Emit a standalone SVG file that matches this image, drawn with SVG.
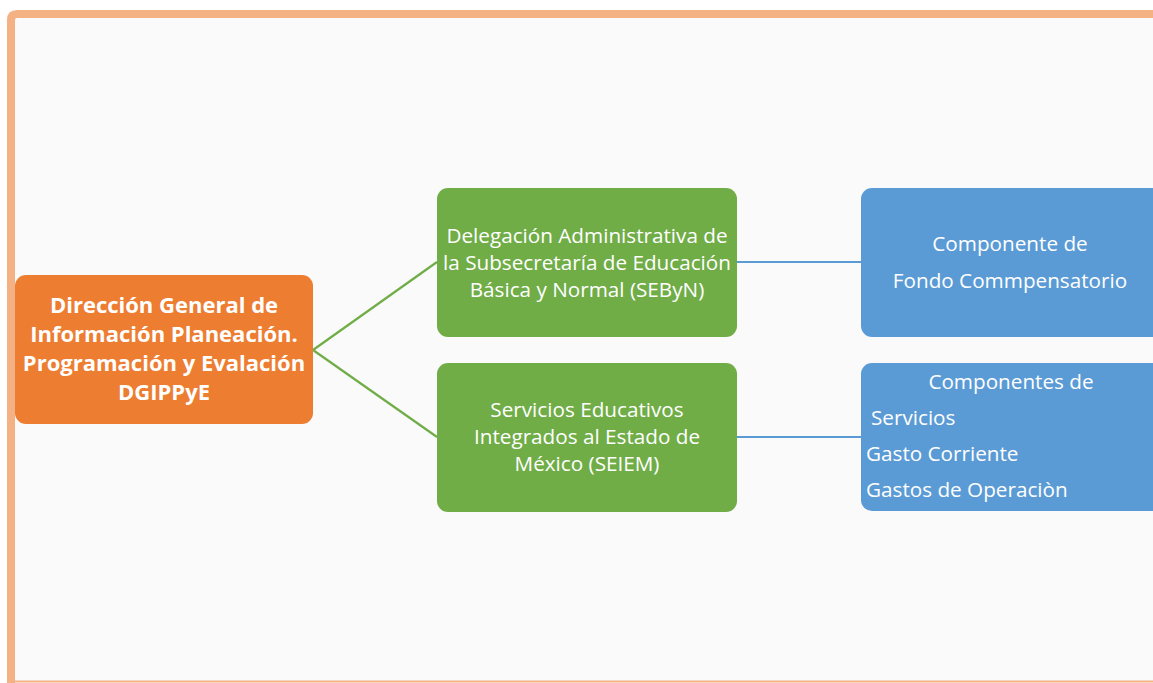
<svg xmlns="http://www.w3.org/2000/svg" width="1153" height="683" viewBox="0 0 1153 683">
<style>
.t{font-family:"Open Sans",Lato,"Liberation Sans",sans-serif;fill:#fff}
.b{font-weight:bold;font-size:22px}
.g{font-size:20.7px}
.c{text-anchor:middle}
.conn-g{stroke:#70ad47;stroke-width:2.2;fill:none}
.conn-b{stroke:#5b9bd5;stroke-width:2.2;fill:none}
</style>
<rect x="0" y="0" width="1153" height="683" fill="#ffffff"/>
<g id="frame">
<rect x="11" y="14" width="1150" height="667" fill="#fafafa"/>
<path d="M11 683 V20 Q11 14 17 14 H1153" fill="none" stroke="#f4b183" stroke-width="8"/>
<line x1="11" y1="681.5" x2="1153" y2="681.5" stroke="#f4b183" stroke-width="2"/>
</g>
<g id="connectors">
<line class="conn-g" x1="313" y1="350" x2="437" y2="262"/>
<line class="conn-g" x1="313" y1="350" x2="437" y2="437"/>
<line class="conn-b" x1="737" y1="262" x2="861" y2="262"/>
<line class="conn-b" x1="737" y1="437" x2="861" y2="437"/>
</g>
<g id="dgippye">
<rect x="15" y="275" width="298" height="149" rx="11" fill="#ed7d31"/>
<text class="t b c" x="164" y="313">Dirección General de</text>
<text class="t b c" x="164" y="342">Información Planeación.</text>
<text class="t b c" x="164" y="371">Programación y Evalación</text>
<text class="t b c" x="164" y="400">DGIPPyE</text>
</g>
<g id="sebyn">
<rect x="437" y="188" width="300" height="149" rx="11" fill="#70ad47"/>
<text class="t g c" x="587" y="243">Delegación Administrativa de</text>
<text class="t g c" x="587" y="270">la Subsecretaría de Educación</text>
<text class="t g c" x="587" y="297">Básica y Normal (SEByN)</text>
</g>
<g id="seiem">
<rect x="437" y="363" width="300" height="149" rx="11" fill="#70ad47"/>
<text class="t g c" x="587" y="417">Servicios Educativos</text>
<text class="t g c" x="587" y="444">Integrados al Estado de</text>
<text class="t g c" x="587" y="471">México (SEIEM)</text>
</g>
<g id="fondo">
<rect x="861" y="188" width="310" height="149" rx="11" fill="#5b9bd5"/>
<text class="t g c" x="1010" y="251">Componente de</text>
<text class="t g c" x="1010" y="288">Fondo Commpensatorio</text>
</g>
<g id="servicios">
<rect x="861" y="363" width="310" height="148" rx="11" fill="#5b9bd5"/>
<text class="t g c" x="1011" y="389">Componentes de</text>
<text class="t g" x="871" y="425">Servicios</text>
<text class="t g" x="866" y="461">Gasto Corriente</text>
<text class="t g" x="866" y="497">Gastos de Operaciòn</text>
</g>
</svg>
